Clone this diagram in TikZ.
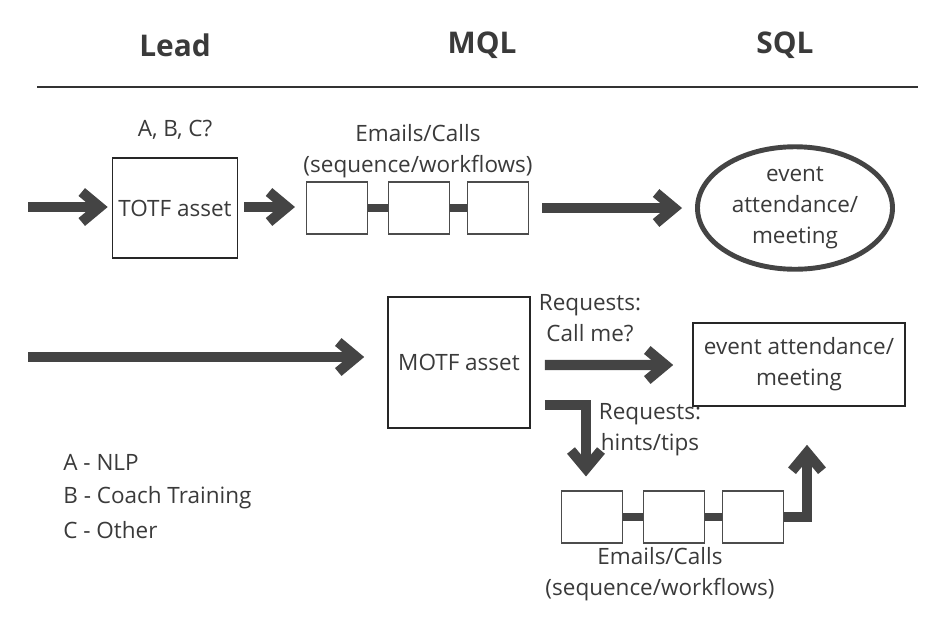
\documentclass[tikz,border=0pt]{standalone}
\usepackage{fontspec}
\setmainfont{Open Sans}
\usetikzlibrary{shapes,arrows.meta,positioning,calc}
\definecolor{ink}{HTML}{3A3A3A}
\definecolor{arrowgray}{HTML}{444444}

\begin{document}
\begin{tikzpicture}[
  txt/.style={text=ink, font=\fontsize{12.8}{17.5}\selectfont, align=center, inner sep=0pt},
  hdr/.style={text=ink, font=\fontsize{17}{20}\selectfont\bfseries},
  assetbox/.style={rectangle, draw=black!85, line width=0.9pt, txt},
  stepbox/.style={rectangle, draw=black!70, line width=0.6pt, fill=white, minimum width=1.22cm, minimum height=1.04cm},
  goal/.style={ellipse, draw=arrowgray, line width=2.8pt, minimum width=3.9cm, minimum height=2.45cm, txt},
  arr/.style={-{Straight Barb[sharp, length=3.6mm, width=6mm]}, line width=5.8pt, arrowgray},
  link/.style={line width=4.3pt, arrowgray}
]
  \useasboundingbox (0,0) rectangle (19.04,-12.66);
  \node[hdr] (lead) at (3.5,-0.9) {Lead};
  \node[hdr] (mql) at (9.64,-0.9) {MQL};
  \node[hdr] (sql) at (15.7,-0.9) {SQL};
  \draw[line width=1.2pt, black!80] (0.74,-1.74) -- (18.36,-1.74);

  \node[txt] (abc) at (3.5,-2.6) {A, B, C?};
  \node[assetbox, minimum width=2.5cm, minimum height=2cm] (totf) at (3.5,-4.16) {TOTF asset};
  \coordinate (start1) at (0.56,-4.14);
  \node[stepbox] (e1) at (6.74,-4.16) {};
  \node[stepbox] (e2) at (8.38,-4.16) {};
  \node[stepbox] (e3) at (9.96,-4.16) {};
  \node[txt] (emails1) at (8.36,-3.02) {Emails/Calls\\(sequence/workflows)};
  \node[goal] (event1) at (15.9,-4.16) {event\\attendance/\\meeting};
  \draw[arr, shorten >=0.08cm] (start1) -- (totf.west |- start1);
  \draw[arr, shorten <=0.12cm, shorten >=0.22cm] (totf.east |- start1) -- (e1.west |- start1);
  \draw[link] (e1) -- (e2);
  \draw[link] (e2) -- (e3);
  \draw[arr, shorten <=0.26cm, shorten >=0.26cm] (e3.east) -- (event1.west);

  \node[assetbox, minimum width=2.84cm, minimum height=2.62cm] (motf) at (9.18,-7.25) {MOTF asset};
  \coordinate (start2) at (0.56,-7.14);
  \draw[arr, shorten >=0.46cm] (start2) -- (motf.west |- start2);
  \node[txt] (callme) at (11.8,-6.36) {Requests:\\Call me?};
  \node[assetbox, minimum width=4.24cm, minimum height=1.66cm] (event2) at (15.98,-7.29) {event attendance/\\meeting};
  \draw[arr, shorten <=0.28cm, shorten >=0.38cm] ([yshift=-0.05cm]motf.east) -- ([yshift=-0.01cm]event2.west);

  \node[txt] (hints) at (13.0,-8.6) {Requests:\\hints/tips};
  \node[stepbox] (b1) at (11.84,-10.34) {};
  \node[stepbox] (b2) at (13.48,-10.34) {};
  \node[stepbox] (b3) at (15.06,-10.34) {};
  \node[txt] (emails2) at (13.2,-11.48) {Emails/Calls\\(sequence/workflows)};
  \draw[arr, shorten >=0.28cm] ([xshift=0.28cm, yshift=0.48cm]motf.south east) -| ([xshift=-0.12cm]b1.north);
  \draw[link] (b1) -- (b2);
  \draw[link] (b2) -- (b3);
  \draw[arr, shorten >=0.76cm] (b3.east) -| ([xshift=0.16cm]event2.south);

  \node[txt, anchor=base west] (legA) at (1.26,-9.41) {A - NLP};
  \node[txt, anchor=base west] (legB) at (1.26,-10.07) {B - Coach Training};
  \node[txt, anchor=base west] (legC) at (1.26,-10.77) {C - Other};
\end{tikzpicture}
\end{document}
